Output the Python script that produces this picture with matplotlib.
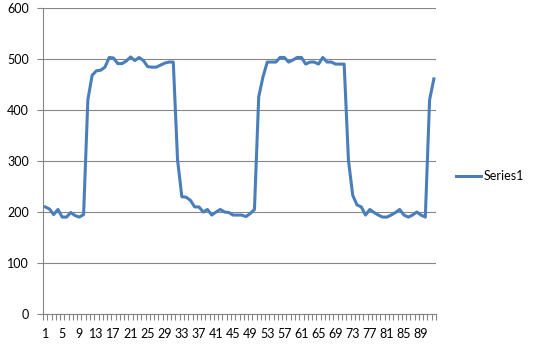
import numpy as np
import matplotlib
matplotlib.use("Agg")
import matplotlib.pyplot as plt
from matplotlib.ticker import FixedLocator, MultipleLocator

# valores (92 muestras)
series1 = [210, 206, 195, 205, 190, 190, 199, 193, 190, 195,
           420, 468, 477, 478, 484, 503, 502, 491, 491, 496,
           504, 497, 503, 497, 485, 484, 484, 488, 492, 494,
           494, 302, 230, 229, 223, 210, 210, 200, 205, 194,
           200, 205, 200, 199, 194, 194, 194, 191, 197, 205,
           426, 465, 494, 494, 494, 503, 503, 494, 498, 503,
           503, 490, 494, 494, 490, 503, 494, 494, 490, 490,
           490, 302, 233, 214, 210, 194, 205, 199, 194, 190,
           190, 194, 199, 205, 194, 190, 194, 200, 194, 190,
           420, 461]
muestras = list(range(1, len(series1) + 1))
etiquetas_x = [str(m) for m in muestras[::4]]

plt.rcParams['font.family'] = ['Lato', 'DejaVu Sans']
gris = '#868686'

fig = plt.figure(figsize=(5.34, 3.52), dpi=100)
ax = fig.add_axes([43 / 534, 38 / 352, 393 / 534, 306 / 352])

linea, = ax.plot(muestras, series1, color='#4A7EBB', linewidth=2.2,
                 solid_joinstyle='round', label='Series1')

ax.set_xlim(0.5, len(series1) + 0.5)
ax.set_ylim(0, 600)
ax.yaxis.set_major_locator(MultipleLocator(100))
ax.grid(axis='y', color=gris, linewidth=0.8)
ax.set_axisbelow(True)

ax.set_xticks(muestras[::4])
ax.set_xticklabels(etiquetas_x)
ax.xaxis.set_minor_locator(FixedLocator(np.arange(0.5, len(series1) + 1, 1)))
ax.tick_params(axis='x', which='major', length=0, pad=10, labelsize=9)
ax.tick_params(axis='x', which='minor', length=4, color=gris, width=0.8)
ax.tick_params(axis='y', length=4, color=gris, width=0.8, pad=6, labelsize=9)

for lado in ['top', 'right']:
    ax.spines[lado].set_visible(False)
for lado in ['left', 'bottom']:
    ax.spines[lado].set_color(gris)
    ax.spines[lado].set_linewidth(0.8)

fig.legend(handles=[linea], loc='center left', bbox_to_anchor=(456 / 534, 176 / 352),
           frameon=False, fontsize=9, handlelength=2.0, handletextpad=0.2,
           borderpad=0, borderaxespad=0)

fig.savefig('out.png', dpi=100)
